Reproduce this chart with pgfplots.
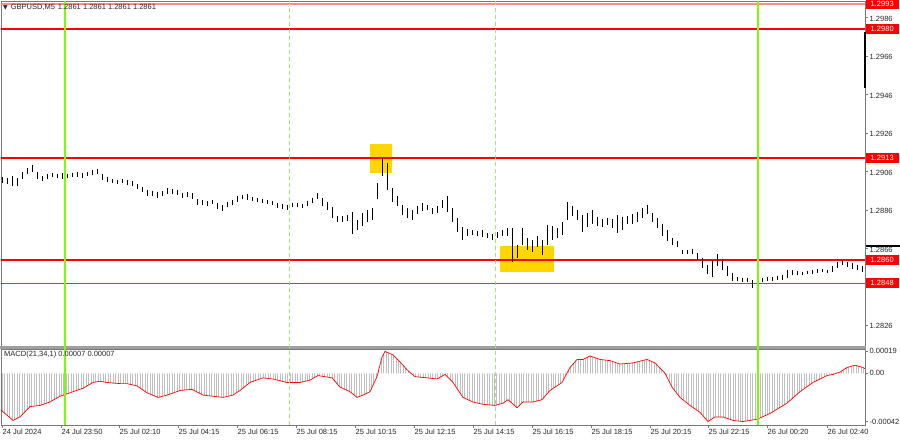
\documentclass[border=0pt]{standalone}
\usepackage{pgfplots}
\pgfplotsset{compat=1.18}
\usepackage{pgfplotstable}
\usetikzlibrary{patterns.meta}
\usepackage{fontspec}
\setmainfont{Liberation Sans}
\newfontfamily\symfont{DejaVu Sans}
\definecolor{mtgreen}{RGB}{124,252,0}
\definecolor{sepgreen}{RGB}{170,225,120}
\definecolor{gold}{RGB}{255,214,0}
\definecolor{axgray}{RGB}{120,120,120}
\definecolor{txtgray}{RGB}{40,40,40}
\newcommand{\lbl}{\fontsize{7.5}{9}\selectfont}

\pgfplotstableread{
x lo hi
2.5 1.29000 1.29031
7.5 1.28995 1.29026
12.5 1.28984 1.29036
17.5 1.28984 1.29026
22.5 1.29021 1.29057
27.5 1.29047 1.29078
32.5 1.29057 1.29094
37.5 1.29021 1.29057
42.5 1.29010 1.29036
47.5 1.29021 1.29047
52.5 1.29031 1.29052
57.5 1.29026 1.29047
62.5 1.29021 1.29052
67.5 1.29026 1.29047
72.5 1.29031 1.29052
77.5 1.29031 1.29057
82.5 1.29026 1.29052
87.5 1.29036 1.29057
92.5 1.29042 1.29068
97.5 1.29047 1.29073
102.5 1.29016 1.29047
107.5 1.29005 1.29031
112.5 1.29000 1.29021
117.5 1.28995 1.29016
122.5 1.29000 1.29021
127.5 1.28990 1.29016
132.5 1.28984 1.29010
137.5 1.28969 1.28995
142.5 1.28953 1.28979
147.5 1.28933 1.28964
152.5 1.28933 1.28958
157.5 1.28922 1.28953
162.5 1.28933 1.28958
167.5 1.28943 1.28974
172.5 1.28943 1.28969
177.5 1.28938 1.28964
182.5 1.28922 1.28948
187.5 1.28927 1.28953
192.5 1.28917 1.28948
197.5 1.28886 1.28917
202.5 1.28886 1.28912
207.5 1.28881 1.28907
212.5 1.28891 1.28912
217.5 1.28865 1.28896
222.5 1.28855 1.28886
227.5 1.28875 1.28901
232.5 1.28886 1.28912
237.5 1.28901 1.28933
242.5 1.28917 1.28938
247.5 1.28912 1.28943
252.5 1.28907 1.28927
257.5 1.28901 1.28922
262.5 1.28896 1.28917
267.5 1.28891 1.28912
272.5 1.28886 1.28907
277.5 1.28870 1.28896
282.5 1.28865 1.28891
287.5 1.28860 1.28886
292.5 1.28875 1.28896
297.5 1.28875 1.28896
302.5 1.28870 1.28891
307.5 1.28881 1.28907
312.5 1.28896 1.28922
317.5 1.28917 1.28948
322.5 1.28881 1.28922
327.5 1.28860 1.28901
332.5 1.28818 1.28875
337.5 1.28797 1.28829
342.5 1.28797 1.28829
347.5 1.28803 1.28834
352.5 1.28735 1.28849
357.5 1.28756 1.28808
362.5 1.28777 1.28844
367.5 1.28797 1.28860
372.5 1.28808 1.28870
377.5 1.28917 1.29000
382.5 1.29036 1.29130
387.5 1.28964 1.29104
392.5 1.28901 1.28974
397.5 1.28881 1.28933
402.5 1.28834 1.28886
407.5 1.28818 1.28870
412.5 1.28808 1.28860
417.5 1.28839 1.28881
422.5 1.28855 1.28896
427.5 1.28860 1.28886
432.5 1.28839 1.28870
437.5 1.28844 1.28881
442.5 1.28870 1.28912
447.5 1.28849 1.28933
452.5 1.28797 1.28870
457.5 1.28745 1.28818
462.5 1.28704 1.28771
467.5 1.28725 1.28761
472.5 1.28730 1.28756
477.5 1.28725 1.28751
482.5 1.28719 1.28756
487.5 1.28714 1.28740
492.5 1.28704 1.28735
497.5 1.28714 1.28745
502.5 1.28725 1.28756
507.5 1.28725 1.28766
512.5 1.28590 1.28766
517.5 1.28610 1.28678
522.5 1.28678 1.28766
527.5 1.28652 1.28714
532.5 1.28642 1.28704
537.5 1.28668 1.28725
542.5 1.28626 1.28704
547.5 1.28678 1.28782
552.5 1.28704 1.28777
557.5 1.28714 1.28766
562.5 1.28730 1.28797
567.5 1.28808 1.28901
572.5 1.28829 1.28881
577.5 1.28808 1.28860
582.5 1.28745 1.28834
587.5 1.28771 1.28844
592.5 1.28787 1.28860
597.5 1.28777 1.28823
602.5 1.28771 1.28813
607.5 1.28782 1.28818
612.5 1.28766 1.28813
617.5 1.28740 1.28834
622.5 1.28756 1.28823
627.5 1.28787 1.28829
632.5 1.28787 1.28839
637.5 1.28797 1.28849
642.5 1.28818 1.28870
647.5 1.28839 1.28886
652.5 1.28797 1.28844
657.5 1.28766 1.28818
662.5 1.28725 1.28787
667.5 1.28699 1.28756
672.5 1.28678 1.28714
677.5 1.28668 1.28699
682.5 1.28631 1.28652
687.5 1.28631 1.28652
692.5 1.28631 1.28657
697.5 1.28600 1.28636
702.5 1.28558 1.28610
707.5 1.28527 1.28574
712.5 1.28512 1.28600
717.5 1.28569 1.28631
722.5 1.28548 1.28605
727.5 1.28517 1.28569
732.5 1.28491 1.28532
737.5 1.28491 1.28512
742.5 1.28486 1.28506
747.5 1.28486 1.28506
752.5 1.28454 1.28496
757.5 1.28480 1.28501
762.5 1.28486 1.28506
767.5 1.28491 1.28512
772.5 1.28491 1.28512
777.5 1.28496 1.28517
782.5 1.28496 1.28522
787.5 1.28506 1.28548
792.5 1.28522 1.28548
797.5 1.28522 1.28543
802.5 1.28522 1.28538
807.5 1.28527 1.28543
812.5 1.28527 1.28548
817.5 1.28532 1.28553
822.5 1.28538 1.28553
827.5 1.28532 1.28548
832.5 1.28538 1.28569
837.5 1.28558 1.28590
842.5 1.28574 1.28600
847.5 1.28564 1.28590
852.5 1.28553 1.28584
857.5 1.28548 1.28574
862.5 1.28538 1.28569
}\candles

\pgfplotstableread{
x v
1 -0.00032
13 -0.00041
20 -0.00038
30 -0.00029
40 -0.00028
50 -0.00025
60 -0.00020
70 -0.00017
83 -0.00013
93 -0.00008
100 -0.00007
107 -0.00008
120 -0.00009
127 -0.00009
137 -0.00011
147 -0.00017
158 -0.00021
167 -0.00019
180 -0.00015
192 -0.00014
203 -0.00019
213 -0.00020
223 -0.00021
233 -0.00019
240 -0.00015
250 -0.00008
263 -0.00004
273 -0.00005
287 -0.00008
300 -0.00008
310 -0.00006
318 -0.00002
332 -0.00004
340 -0.00012
350 -0.00016
357 -0.00021
363 -0.00019
370 -0.00016
377 -0.00003
382 0.00014
385 0.00019
393 0.00016
400 0.00010
407 0.00003
415 -0.00003
427 -0.00004
437 -0.00005
445 -0.00001
453 -0.00008
463 -0.00021
473 -0.00025
483 -0.00027
495 -0.00028
503 -0.00026
508 -0.00023
517 -0.00030
523 -0.00025
533 -0.00025
542 -0.00023
550 -0.00015
562 -0.00008
570 0.00005
577 0.00012
583 0.00012
590 0.00015
600 0.00012
610 0.00011
620 0.00008
633 0.00009
647 0.00012
655 0.00009
665 0.00000
672 -0.00012
680 -0.00021
690 -0.00028
700 -0.00034
708 -0.00042
715 -0.00038
723 -0.00038
733 -0.00041
743 -0.00042
757 -0.00040
770 -0.00035
787 -0.00026
800 -0.00016
813 -0.00008
827 -0.00002
833 -0.00001
840 0.00001
847 0.00005
855 0.00007
863 0.00005
865 0.00004
}\macd

\begin{document}
\begin{tikzpicture}[x=1pt,y=1pt]
\useasboundingbox (0,0) rectangle (900,441);
\fill[white] (0,0) rectangle (900,441);

% ---------------- main price panel ----------------
\begin{axis}[
  at={(1pt,95pt)}, anchor=south west,
  scale only axis, width=864pt, height=345pt,
  xmin=1, xmax=865, ymin=1.28153, ymax=1.29946,
  xtick=\empty,
  ytick={1.2826,1.2846,1.2866,1.2886,1.2906,1.2926,1.2946,1.2966,1.2986},
  yticklabels={1.2826,{},1.2866,1.2886,1.2906,1.2926,1.2946,1.2966,1.2986},
  ytick pos=right, yticklabel pos=right,
  tick align=outside, major tick length=3pt,
  tick style={axgray, line width=0.6pt},
  yticklabel style={font=\lbl, text=txtgray, anchor=west, inner sep=0pt, xshift=1.5pt, yshift=-1pt},
  axis line style={axgray, line width=0.9pt},
  scaled y ticks=false,
  clip=false,
]
% yellow highlight boxes
\fill[gold] (axis cs:370,1.29203) rectangle (axis cs:392,1.29052);
\fill[gold] (axis cs:500,1.28673) rectangle (axis cs:554,1.28538);
% horizontal levels
\draw[red!45, line width=2pt] (axis cs:1,1.2993) -- (axis cs:865,1.2993);
\draw[red, line width=1.2pt] (axis cs:1,1.2980) -- (axis cs:865,1.2980);
\draw[red, line width=1.2pt] (axis cs:1,1.2913) -- (axis cs:865,1.2913);
\draw[red, line width=1.2pt] (axis cs:1,1.2860) -- (axis cs:865,1.2860);
\draw[red!85, line width=0.8pt] (axis cs:1,1.2848) -- (axis cs:865,1.2848);
% candles (low-high range)
\addplot[draw=none, mark=none, forget plot,
  error bars/.cd, y dir=both, y explicit, error mark=none,
  error bar style={draw=black, line width=1.5pt, solid}]
  table[x=x, y expr={0.5*(\thisrow{lo}+\thisrow{hi})}, y error expr={0.5*(\thisrow{hi}-\thisrow{lo})}] {\candles};
% right-edge marker
\draw[black, line width=1.6pt] (axis cs:865,1.29785) -- (axis cs:865,1.29494);
\coordinate (L1) at (axis cs:865,1.2993);
\coordinate (L2) at (axis cs:865,1.2980);
\coordinate (L3) at (axis cs:865,1.2913);
\coordinate (L4) at (axis cs:865,1.2860);
\coordinate (L5) at (axis cs:865,1.2848);
\coordinate (G1t) at (axis cs:65,1.29946);
\coordinate (G2t) at (axis cs:758,1.29946);
\coordinate (D1t) at (axis cs:289,1.29946);
\coordinate (D2t) at (axis cs:495,1.29946);
\end{axis}

% panel separator band
\fill[gray!75] (0,91.8) rectangle (865.5,95.2);

% ---------------- MACD panel ----------------
\begin{axis}[
  at={(1pt,16pt)}, anchor=south west,
  scale only axis, width=864pt, height=76pt,
  xmin=1, xmax=865, ymin=-0.000450, ymax=0.000211,
  ytick={-0.00042,0,0.00019},
  yticklabels={-0.00042,0.00,0.00019},
  xtick={2,61,119,178,237,296,355,414,473,532,591,650,708,767,827},
  xticklabels={24 Jul 2024,24 Jul 23:50,25 Jul 02:10,25 Jul 04:15,25 Jul 06:15,25 Jul 08:15,25 Jul 10:15,25 Jul 12:15,25 Jul 14:15,25 Jul 16:15,25 Jul 18:15,25 Jul 20:15,25 Jul 22:15,26 Jul 00:20,26 Jul 02:40},
  xtick pos=bottom, ytick pos=right, yticklabel pos=right,
  tick align=outside, major tick length=3pt,
  tick style={axgray, line width=0.6pt},
  xticklabel style={font=\lbl, text=txtgray, anchor=north west, inner sep=0pt, xshift=0.5pt, yshift=-1pt},
  yticklabel style={font=\lbl, text=txtgray, anchor=west, inner sep=0pt, xshift=1.5pt},
  axis line style={axgray, line width=0.9pt},
  scaled y ticks=false,
  clip=false,
]
\addplot[pattern={Lines[angle=90,distance=2.46pt,line width=1pt]}, pattern color=gray!50, draw=none]
  table[x=x,y=v] {\macd} -- (axis cs:865,0) -- (axis cs:1,0) -- cycle;
\addplot[red, line width=0.7pt, mark=none] table[x=x,y=v] {\macd};
\coordinate (G1b) at (axis cs:65,-0.000450);
\coordinate (G2b) at (axis cs:758,-0.000450);
\coordinate (D1b) at (axis cs:289,-0.000450);
\coordinate (D2b) at (axis cs:495,-0.000450);
\end{axis}

% vertical separators across both panels
\draw[sepgreen, line width=0.8pt, dash pattern=on 4pt off 3pt] (D1t) -- (D1b);
\draw[sepgreen, line width=0.8pt, dash pattern=on 4pt off 3pt] (D2t) -- (D2b);
\draw[mtgreen, line width=1.2pt] (G1t) -- (G1b);
\draw[mtgreen, line width=1.2pt] (G2t) -- (G2b);

% red price labels
\foreach \c/\t in {L1/1.2993,L2/1.2980,L3/1.2913,L4/1.2860,L5/1.2848}{
  \node[fill=red, text=white, font=\lbl, inner sep=0pt, minimum width=33pt, minimum height=10pt, anchor=west] at ([xshift=0.5pt]\c) {\t};
}
% bid marker edge
\fill[black] (866,194) rectangle (900,195.8);
% header texts
\node[anchor=west, inner sep=0pt, text=txtgray] at (3,434) {{\symfont\fontsize{6}{7}\selectfont ▼}\hspace{3pt}{\lbl GBPUSD,M5\hspace{3pt}1.2861 1.2861 1.2861 1.2861}};
\node[anchor=west, inner sep=0pt, text=txtgray, font=\lbl] at (4,86) {MACD(21,34,1) 0.00007 0.00007};
\end{tikzpicture}
\end{document}
